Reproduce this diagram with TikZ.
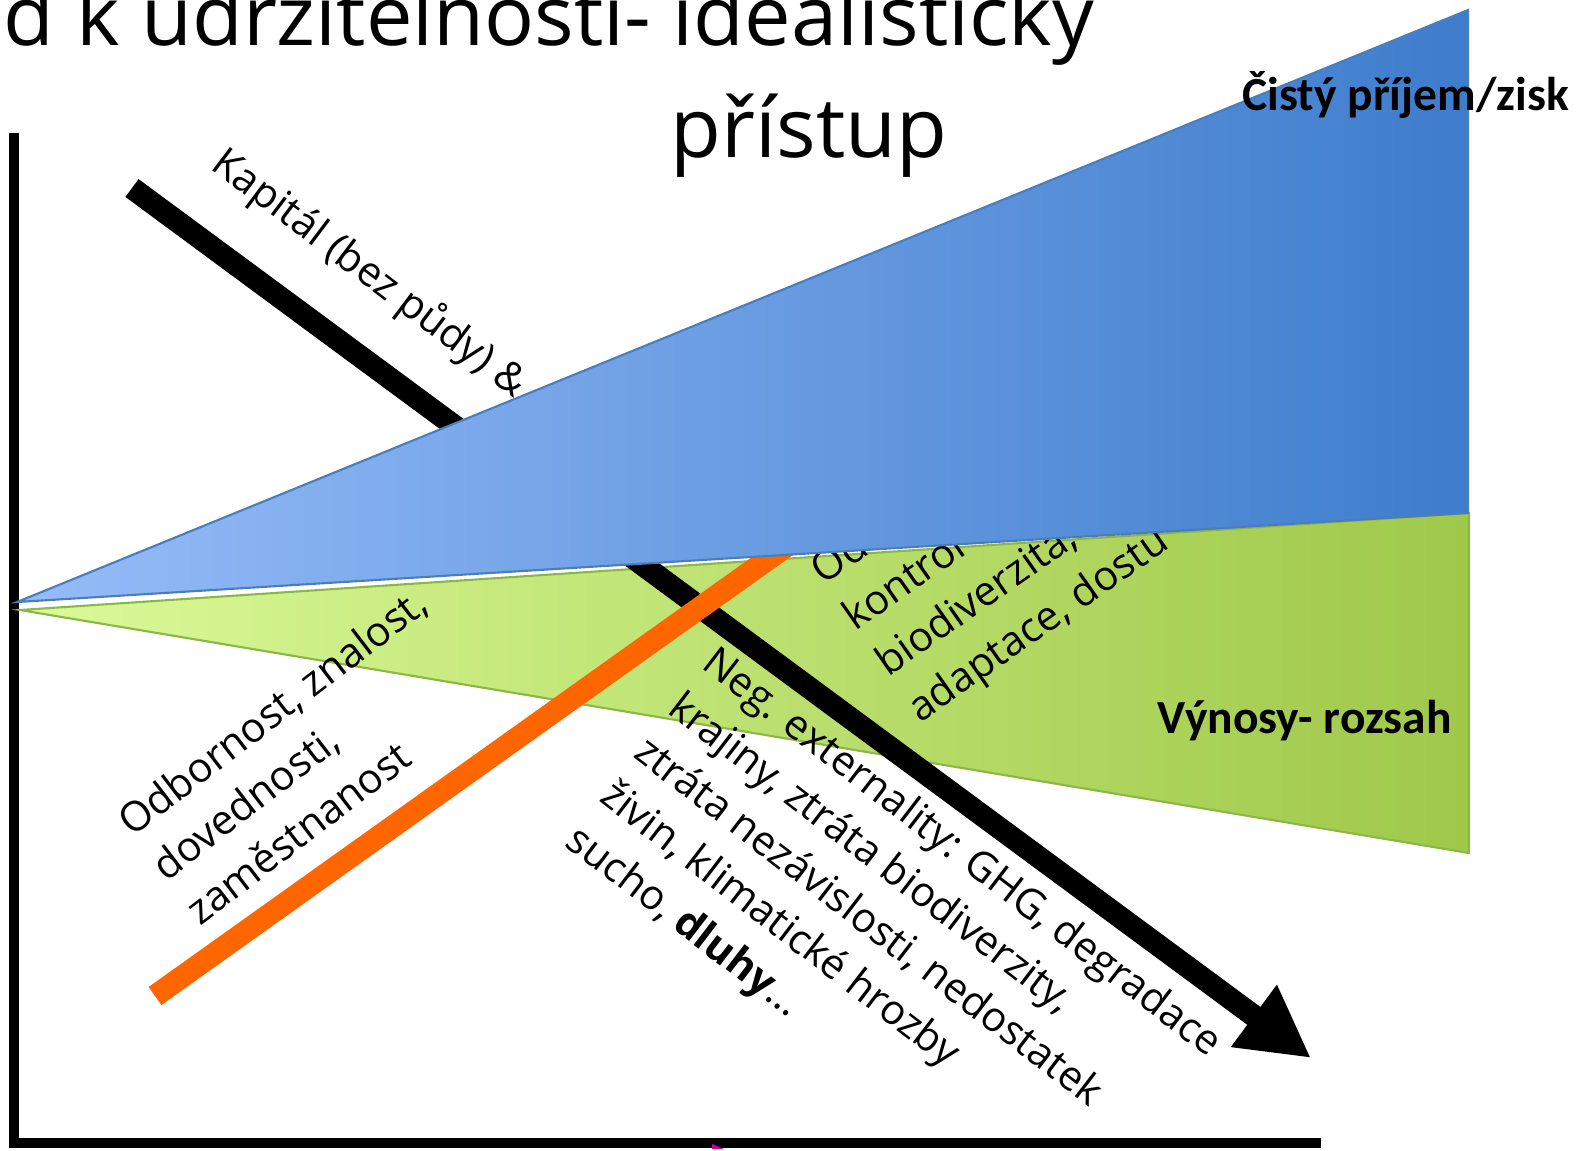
\documentclass[tikz,border=0pt]{standalone}
\usepackage{fontspec}
\setmainfont{Open Sans}
\newfontfamily\labelfont{Carlito}
\usetikzlibrary{arrows.meta}
\definecolor{blueL}{RGB}{150,188,248}
\definecolor{blueR}{RGB}{62,125,204}
\definecolor{blueE}{RGB}{74,126,187}
\definecolor{greenL}{RGB}{218,250,152}
\definecolor{greenR}{RGB}{160,200,74}
\definecolor{greenE}{RGB}{140,182,70}
\definecolor{orangeL}{RGB}{255,102,0}
\definecolor{pinkM}{RGB}{204,0,153}
\tikzstyle{title} = [inner sep=0pt, font=\fontsize{23.6pt}{28pt}\selectfont]
\tikzstyle{note} = [inner sep=0pt, align=left, font=\fontsize{11.7pt}{15.9pt}\selectfont]
\tikzstyle{bandlabel} = [inner sep=0pt, anchor=base west,
    font=\labelfont\bfseries\fontsize{13.5pt}{16pt}\selectfont]
\tikzstyle{axisline} = [draw, line width=2.85pt]
\tikzstyle{trend} = [draw, line width=6.3pt]

\begin{document}
\begin{tikzpicture}[x=0.01cm, y=-0.01cm]
    \useasboundingbox (0,0) rectangle (1579,1150);
    % Title
    \node [title, anchor=base west] (head1) at (3,45) {d k udržitelnosti- idealistický};
    \node [title, anchor=base west] (head2) at (670,157) {přístup};
    % Axes
    \coordinate (ytop) at (14,133);
    \coordinate (ybot) at (14,1148);
    \coordinate (xbeg) at (9,1143);
    \coordinate (xend) at (1321,1143);
    \path [axisline] (ytop) -- (ybot);
    \path [axisline] (xbeg) -- (xend);
    \fill [pinkM] (712,1144) -- (724,1149) -- (712,1149) -- cycle;
    % Yield band
    \shadedraw [left color=greenL, right color=greenR, draw=greenE, line width=0.6pt]
        (20,610) -- (1469,513) -- (1469,853) -- cycle;
    % Place notes
    \node [note, rotate=-37, anchor=base west] (kapital) at (209,168) {Kapitál (bez půdy) \&};
    \node [note, rotate=35, anchor=north west] (odolnost) at (805,560)
        {Od\\ kontrol\\ biodiverzita,\\ adaptace, dostu};
    \node [note, rotate=37.5, anchor=north west] (odbornost) at (112,813)
        {Odbornost, znalost,\\ dovednosti,\\ zaměstnanost};
    \node [note, rotate=-37.5, anchor=north west] (externality) at (719,642)
        {Neg. externality: GHG, degradace\\ krajiny, ztráta biodiverzity,\\
         ztráta nezávislosti, nedostatek\\ živin, klimatické hrozby\\
         sucho, \textbf{dluhy}…};
    % Draw trends
    \coordinate (kapS) at (132,188);
    \coordinate (kapE) at (1311,1058);
    \coordinate (orgS) at (155,996);
    \coordinate (orgE) at (830,515);
    \path [trend, -{Triangle[length=20.2pt,width=20.5pt]}] (kapS) -- (kapE);
    \path [trend, draw=orangeL] (orgS) -- (orgE);
    % Income band
    \shadedraw [left color=blueL, right color=blueR, draw=blueE, line width=0.6pt]
        (17,602) -- (1468,10) -- (1468,513) -- cycle;
    \node [bandlabel] (zisk) at (1242,110) {Čistý příjem/zisk};
    \node [bandlabel] (vynosy) at (1157,733) {Výnosy- rozsah};
\end{tikzpicture}
\end{document}
